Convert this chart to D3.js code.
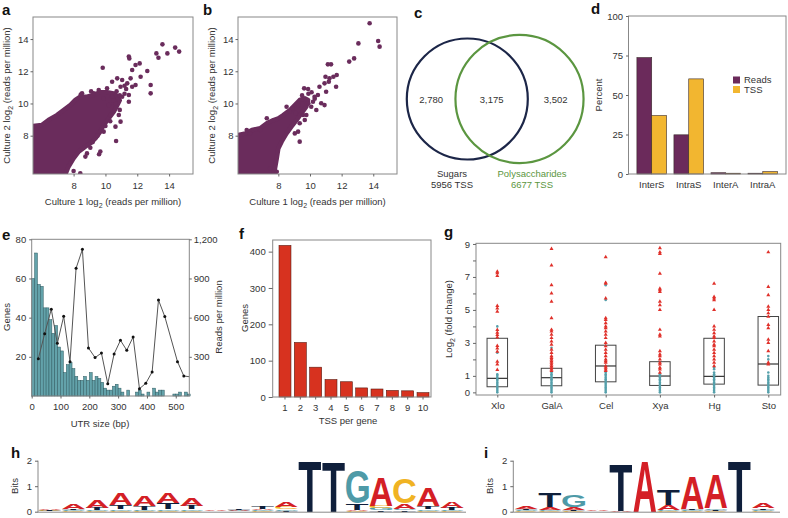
<!DOCTYPE html>
<html lang="en">
<head>
<meta charset="UTF-8">
<title>TSS figure</title>
<script src="https://d3js.org/d3.v7.min.js"></script>
<style>
  body { margin: 0; background: #fff; }
  svg text { font-family: "Liberation Sans", Arial, sans-serif; }
</style>
</head>
<body>
<script>
const width = 788
const height = 518

// a, b: log2 reads per million, culture 1 vs culture 2
// the saturated cloud is kept as an outline, the loose points one by one
const coreA = [[5.0,5.0],[5.0,8.56],[6.0,8.66],[6.42,8.97],[6.95,9.28],[7.37,9.59],[7.79,9.9],[8.11,10.22],[8.42,10.42],[8.84,10.42],[9.26,10.53],[9.68,10.7],[10.1,10.7],[10.6,10.6],[10.9,10.2],[10.7,9.8],[10.53,9.49],[10.21,9.08],[9.89,8.66],[9.68,8.25],[9.37,7.83],[9.05,7.52],[8.74,7.32],[8.32,7.01],[8.0,6.59],[7.68,6.07],[7.47,5.56],[7.4,5.0]]
const pointsA = [[13.58,13.67],[14.38,13.47],[14.63,13.22],[13.2,13.11],[13.89,13.11],[13.33,12.84],
  [11.47,12.91],[11.5,12.8],[12.15,12.49],[11.89,12.39],[11.68,12.08],[9.83,12.22],[12.63,12.02],
  [12.21,11.66],[11.58,11.56],[12.84,11.15],[12.84,10.63],[11.89,11.15],[11.47,10.53],[11.47,10.11],
  [11.05,10.42],[10.84,9.28],[10.95,8.87],[10.63,8.56],[9.89,8.25],[10.32,9.28],[10.67,7.67],
  [9.05,7.25],[9.68,7.01],[9.6,6.85],[8.84,6.9],[8.74,6.7],[8.0,5.81],[8.42,5.66],
  [10.42,11.35],[10.74,11.56],[11.05,11.46],[11.37,11.25],[11.68,11.04],[10.95,11.04],[10.1,10.94],
  [9.58,10.84],[9.26,10.63],[8.53,10.63],[8.45,10.55],[9.89,10.32],[10.42,10.42],[10.63,10.01],[10.21,9.9],
  [11.2,11.1],[10.7,10.75],[11.3,10.9],[9.1,10.75],[10.9,10.5],[10.5,10.2],[11.2,10.6],[9.2,7.6],
  [9.5,8.0],[10.0,8.6],[10.3,8.9],[10.9,9.6]]
const coreB = [[5.0,5.0],[5.0,7.94],[5.92,8.14],[6.33,8.35],[6.85,8.46],[7.27,8.77],[7.69,8.97],[8.0,9.08],[8.31,9.28],[8.73,9.59],[9.04,9.9],[9.35,10.22],[9.67,10.32],[9.88,10.22],[9.77,9.8],[9.46,9.39],[9.15,8.97],[8.83,8.56],[8.52,8.14],[8.21,7.63],[8.0,7.21],[7.9,6.59],[7.79,5.97],[7.69,5.56],[7.6,5.0]]
const pointsB = [[13.77,14.98],[14.31,13.88],[14.4,13.53],[13.06,13.73],[12.79,12.8],[12.48,12.6],[11.13,12.43],[11.33,12.43],
  [10.98,11.66],[11.23,11.56],[11.48,11.66],[11.69,11.77],[11.65,11.04],[11.19,11.35],[10.92,11.25],[10.6,11.04],
  [11.02,10.73],[9.63,10.94],[9.88,10.9],[10.5,10.53],[10.29,10.42],[10.19,10.11],[10.71,10.01],[10.92,9.9],
  [10.4,9.59],[10.08,9.8],[8.52,9.8],[8.73,9.49],[9.25,9.9],[9.56,9.28],[9.67,8.97],[9.77,9.28],[9.35,8.77],
  [9.25,8.25],[9.35,7.63],[9.04,8.14],[7.27,9.08],[6.0,8.35],[6.85,8.35],[6.21,8.14],[7.9,5.76],[7.48,5.97],
  [9.9,10.6],[10.1,10.7],[9.5,10.5],[10.3,10.3],[9.9,10.0],[8.9,9.7],[9.1,9.4]]
const scatterTicks = [8, 10, 12, 14]

// c: venn of TSS sets
const vennNames = ['Sugars', 'Polysaccharides']
const vennTotals = [5956, 6677]
const vennCounts = ['2,780', '3,175', '3,502']

// d: percent of reads / TSS per class
const regionCats = ['InterS', 'IntraS', 'InterA', 'IntraA']
const readsPct = [73.7, 24.8, 0.8, 0.5]
const tssPct = [37, 60.2, 0.5, 1.5]

// e: UTR size histogram (10 bp bins) and reads per million line
const utrGenes = [60,73,57,56,45,45,39,32,36,25,23,12,16,17,14,10,8,8,10,8,12,8,10,9,7,4,3,3,5,6,4,2,0,3,0,0,2,3,1,0,2,0,4,2,3,3,0,0,0,1,1,2,0,2,1]
const utrLineBp = [23,45,68,89,111,133,154,176,197,220,242,264,286,308,330,352,374,396,418,440,462,506,528,547]
const utrLineRpm = [286,477,664,403,610,263,978,1123,368,294,329,94,322,426,350,452,56,97,184,735,608,263,153,148]

// f: TSS per gene
const tssPerGene = [1,2,3,4,5,6,7,8,9,10]
const tssGenes = [417,150,82,48,42,25,22,18,17,12]

// g: log2 fold change per substrate
const gCats = ['Xlo', 'GalA', 'Cel', 'Xya', 'Hg', 'Sto']
const gQ1 = [0.34, 0.4, 0.64, 0.42, 0.5, 0.44]
const gMed = [0.85, 0.89, 1.6, 0.99, 0.97, 1.72]
const gQ3 = [3.28, 1.46, 2.86, 1.86, 3.28, 4.6]
const gUp = [
  [7.33,7.23,7.07,5.25,5.1,4.9,3.79,3.63,3.49,3.34,2.82,2.67,2.47,1.86,1.7,1.36],
  [8.7,7.7,6.5,6.0,5.5,4.5,3.8,3.7,3.5,3.3,3.1,2.9,2.6,2.4,2.2,2.1,2.0,1.9,1.8,1.7,1.6,1.5,1.4,1.3],
  [8.2,6.65,6.6,5.7,4.5,4.4,4.2,4.0,3.9,3.7,3.5,3.3,3.0,2.8,2.6,2.4,2.2,2.0,1.9,1.8,1.6,1.5,1.4,1.3],
  [8.75,8.5,8.4,7.2,6.3,6.2,6.1,5.5,5.3,5.0,3.8,3.5,3.4,2.5,2.3,2.2,2.0,1.8,1.7,1.5,1.4,1.2],
  [6.6,5.8,5.7,5.6,5.0,4.0,3.8,3.6,3.4,3.3,3.1,2.9,2.8,2.6,2.4,2.2,2.0,1.8,1.6],
  [8.5,6.4,5.9,5.2,5.0,4.8,4.6,4.1,3.9,3.2,3.0,2.5,1.8,1.7]
]
const gDown = [
  [4.0,2.4,1.1,1.0,0.9,0.8,0.7,0.6,0.5,0.4,0.3,0.2,0.1,0.0],
  [2.7,1.2,1.1,1.0,0.9,0.8,0.7,0.6,0.5,0.4,0.3,0.2,0.1,0.0],
  [6.5,5.6,1.2,1.1,1.0,0.9,0.8,0.7,0.6,0.5,0.4,0.3,0.2,0.1,0.0],
  [1.1,1.0,0.9,0.8,0.7,0.6,0.5,0.4,0.3,0.2,0.1,0.0],
  [1.5,1.4,1.2,1.1,1.0,0.9,0.8,0.7,0.6,0.5,0.4,0.3,0.2,0.1,0.0],
  [2.2,2.0,1.2,1.0,0.9,0.8,0.7,0.6,0.5,0.4,0.3,0.2,0.1,0.0]
]

// h, i: sequence logos, bits per letter per position
const logoH = [
  [['A',.04],['T',.03],['C',.02],['G',.01]],
  [['A',.18],['T',.05],['G',.03],['C',.02]],
  [['A',.3],['T',.08],['G',.04],['C',.03]],
  [['A',.45],['T',.17],['G',.06],['C',.04]],
  [['A',.38],['T',.14],['G',.05],['C',.03]],
  [['A',.42],['T',.27],['G',.05],['C',.04]],
  [['A',.32],['T',.14],['G',.05],['C',.04]],
  [['A',.02],['T',.01],['G',.01],['C',.01]],
  [['T',.07],['A',.03],['G',.02],['C',.01]],
  [['T',.08],['A',.06],['G',.03],['C',.02]],
  [['A',.18],['C',.08],['G',.06],['T',.03]],
  [['T',2.0]],
  [['T',1.94]],
  [['G',1.3],['T',.25],['A',.04],['C',.03]],
  [['A',1.1],['C',.1],['G',.08],['T',.05]],
  [['C',1.0],['A',.22],['T',.05],['G',.05]],
  [['A',.7],['T',.12],['G',.06],['C',.04]],
  [['A',.25],['T',.08],['G',.04],['C',.03]]
]
const logoI = [
  [['A',.12],['T',.05],['G',.03],['C',.02]],
  [['T',.55],['A',.12],['G',.04],['C',.03]],
  [['G',.48],['A',.1],['T',.05],['C',.03]],
  [['A',.02],['T',.01],['G',.01],['C',.01]],
  [['T',1.85],['A',.04]],
  [['A',2.0]],
  [['T',.6],['A',.2],['G',.03],['C',.02]],
  [['A',1.25],['T',.05],['G',.04],['C',.03]],
  [['A',1.3],['G',.07],['T',.05],['C',.03]],
  [['T',1.99]],
  [['A',.2],['T',.07],['G',.04],['C',.02]]
]
const logoColors = { A: '#d41f26', T: '#0f1f3b', G: '#4e9aa7', C: '#f0b323' }

const ink = '#333'
const frameCol = '#888'
const fs = 9.5

const svg = d3.select('body').append('svg')
  .attr('width', width)
  .attr('height', height)

function frame(x0, y0, x1, y1) {
  svg.append('rect')
    .attr('x', x0).attr('y', y0)
    .attr('width', x1 - x0).attr('height', y1 - y0)
    .attr('fill', 'none')
    .attr('stroke', frameCol)
    .attr('stroke-width', 1)
}

function panelLabel(t, x, y) {
  svg.append('text').text(t)
    .attr('x', x).attr('y', y)
    .attr('font-size', 15)
    .attr('font-weight', 'bold')
    .attr('fill', '#111')
}

function styleAxis(g) {
  g.attr('color', ink)
  g.select('.domain').remove()
  g.selectAll('line').attr('stroke', '#666')
  g.selectAll('text').attr('font-size', fs)
}

function title(txt, x, y, rot, color) {
  svg.append('text').text(txt)
    .attr('transform', `translate(${x},${y}) rotate(${rot || 0})`)
    .attr('text-anchor', 'middle')
    .attr('font-size', fs)
    .attr('fill', color || ink)
}

// text with a subscript 2 after "log"
function log2Title(pre, post, x, y, rot) {
  const t = svg.append('text')
    .attr('transform', `translate(${x},${y}) rotate(${rot || 0})`)
    .attr('text-anchor', 'middle')
    .attr('font-size', fs)
    .attr('fill', ink)
  t.append('tspan').text(pre)
  t.append('tspan').text('2').attr('font-size', 7).attr('dy', 2.5)
  t.append('tspan').text(post).attr('dy', -2.5)
}

// ---------- a, b ----------
function scatter(id, x0, x1, core, pts) {
  const y0 = 17, y1 = 174
  const x = d3.scaleLinear().domain([5.45, 15.5]).range([x0, x1])
  const y = d3.scaleLinear().domain([5.62, 15.37]).range([y1, y0])

  svg.append('clipPath').attr('id', id)
    .append('rect').attr('x', x0).attr('y', y0).attr('width', x1 - x0).attr('height', y1 - y0)

  const g = svg.append('g').attr('clip-path', `url(#${id})`)
  g.append('path')
    .datum(core)
    .attr('d', d3.line().x(d => x(d[0])).y(d => y(d[1])).curve(d3.curveLinearClosed))
    .attr('fill', '#6a2c5c')
    .attr('stroke', '#6a2c5c')
    .attr('stroke-width', 4.5)
    .attr('stroke-linejoin', 'round')
  g.selectAll('circle')
    .data(pts)
    .enter()
    .append('circle')
      .attr('cx', d => x(d[0]))
      .attr('cy', d => y(d[1]))
      .attr('r', 2.3)
      .attr('fill', '#6a2c5c')

  frame(x0, y0, x1, y1)
  svg.append('g').attr('transform', `translate(0,${y1})`)
    .call(d3.axisBottom(x).tickValues(scatterTicks).tickSize(2.5).tickPadding(5.5))
    .call(styleAxis)
  svg.append('g').attr('transform', `translate(${x0},0)`)
    .call(d3.axisLeft(y).tickValues(scatterTicks).tickSize(2.5).tickPadding(2))
    .call(styleAxis)

  log2Title('Culture 1 log', ' (reads per million)', (x0 + x1) / 2, 205)
  log2Title('Culture 2 log', ' (reads per million)', x0 - 23, (y0 + y1) / 2, -90)
}
scatter('clipA', 33, 193, coreA, pointsA)
scatter('clipB', 238, 397, coreB, pointsB)
panelLabel('a', 2, 15)
panelLabel('b', 203, 15)

// ---------- c ----------
const vennK = 60.5 / Math.sqrt(vennTotals[0])
const vennR = vennTotals.map(n => vennK * Math.sqrt(n))
const vennCx = [467.3, 519.5]
const vennCy = 99
const vennCol = ['#1c2648', '#5b9640']
svg.selectAll('.venn')
  .data(vennR)
  .enter()
  .append('circle')
    .attr('cx', (d, i) => vennCx[i])
    .attr('cy', vennCy)
    .attr('r', d => d)
    .attr('fill', 'none')
    .attr('stroke', (d, i) => vennCol[i])
    .attr('stroke-width', 2.2)
const countX = [
  (vennCx[0] - vennR[0] + vennCx[1] - vennR[1]) / 2,
  (vennCx[1] - vennR[1] + vennCx[0] + vennR[0]) / 2,
  (vennCx[0] + vennR[0] + vennCx[1] + vennR[1]) / 2
]
vennCounts.forEach((c, i) => title(c, countX[i], vennCy + 3.5))
title(vennNames[0], 452, 176.5, 0, ink)
title(vennTotals[0] + ' TSS', 452, 188, 0, ink)
title(vennNames[1], 532, 176.5, 0, vennCol[1])
title(vennTotals[1] + ' TSS', 532, 188, 0, vennCol[1])
panelLabel('c', 414, 18)

// ---------- d ----------
{
  const x0 = 628.5, x1 = 786, y0 = 16, y1 = 174
  const x = d3.scaleBand().domain(regionCats).range([x0 + 1, x1 - 1]).paddingInner(0.2).paddingOuter(0.2)
  const y = d3.scaleLinear().domain([0, 100]).range([y1, y0])
  const bw = x.bandwidth() / 2
  const series = [readsPct, tssPct]
  const cols = ['#6b2a5b', '#f2b630']
  series.forEach((vals, s) => {
    svg.selectAll('.bd' + s)
      .data(vals)
      .enter()
      .append('rect')
        .attr('x', (d, i) => x(regionCats[i]) + s * bw)
        .attr('y', d => y(d))
        .attr('width', bw)
        .attr('height', d => y1 - y(d))
        .attr('fill', cols[s])
        .attr('stroke', '#3a2a2a')
        .attr('stroke-width', 0.6)
  })
  frame(x0, y0, x1, y1)
  svg.append('g').attr('transform', `translate(0,${y1})`)
    .call(d3.axisBottom(x).tickSize(0).tickPadding(7))
    .call(styleAxis)
  svg.append('g').attr('transform', `translate(${x0},0)`)
    .call(d3.axisLeft(y).tickValues([0, 25, 50, 75, 100]).tickSize(2.5).tickPadding(3))
    .call(styleAxis)
  title('Percent', 602, 95, -90)
  const legend = ['Reads', 'TSS']
  legend.forEach((t, i) => {
    svg.append('rect').attr('x', 733).attr('y', 76.5 + i * 9.5).attr('width', 7).attr('height', 7)
      .attr('fill', cols[i])
    svg.append('text').text(t).attr('x', 744).attr('y', 83.3 + i * 9.5)
      .attr('font-size', fs).attr('fill', ink)
  })
  panelLabel('d', 591, 14)
}

// ---------- e ----------
{
  const x0 = 31.7, x1 = 189.3, y0 = 239.3, y1 = 396
  const x = d3.scaleLinear().domain([0, 547]).range([x0, x1])
  const yl = d3.scaleLinear().domain([0, 80]).range([y1, y0])
  const yr = d3.scaleLinear().domain([0, 1200]).range([y1, y0])
  svg.selectAll('.be')
    .data(utrGenes)
    .enter()
    .append('rect')
      .attr('x', (d, i) => x(i * 10))
      .attr('y', d => yl(d))
      .attr('width', x(10) - x(0))
      .attr('height', d => y1 - yl(d))
      .attr('fill', '#63a2aa')
      .attr('stroke', '#2f5a60')
      .attr('stroke-width', 0.5)
  const pts = utrLineBp.map((b, i) => [b, utrLineRpm[i]])
  svg.append('path')
    .datum(pts)
    .attr('d', d3.line().x(d => x(d[0])).y(d => yr(d[1])))
    .attr('fill', 'none')
    .attr('stroke', '#555')
    .attr('stroke-width', 1)
  svg.selectAll('.pe')
    .data(pts.slice(0, -1))
    .enter()
    .append('circle')
      .attr('cx', d => x(d[0]))
      .attr('cy', d => yr(d[1]))
      .attr('r', 1.5)
      .attr('fill', '#111')
  frame(x0, y0, x1, y1)
  svg.append('g').attr('transform', `translate(0,${y1})`)
    .call(d3.axisBottom(x).tickValues([0, 100, 200, 300, 400, 500]).tickSize(2.5).tickPadding(5))
    .call(styleAxis)
  svg.append('g').attr('transform', `translate(${x0},0)`)
    .call(d3.axisLeft(yl).tickValues([20, 40, 60, 80]).tickSize(2.5).tickPadding(3))
    .call(styleAxis)
  svg.append('g').attr('transform', `translate(${x1},0)`)
    .call(d3.axisRight(yr).tickValues([300, 600, 900, 1200]).tickSize(2.5).tickPadding(2))
    .call(styleAxis)
  title('UTR size (bp)', 100, 427)
  title('Genes', 10, 317, -90)
  title('Reads per million', 222, 317, -90)
  panelLabel('e', 2, 240)
}

// ---------- f ----------
{
  const x0 = 272.7, x1 = 431, y0 = 240, y1 = 397
  const x = d3.scaleBand().domain(tssPerGene).range([279, 429]).paddingInner(0.22).paddingOuter(0)
  const y = d3.scaleLinear().domain([0, 432]).range([y1, y0])
  svg.selectAll('.bf')
    .data(tssGenes)
    .enter()
    .append('rect')
      .attr('x', (d, i) => x(tssPerGene[i]))
      .attr('y', d => y(d))
      .attr('width', x.bandwidth())
      .attr('height', d => y1 - y(d))
      .attr('fill', '#d7321f')
      .attr('stroke', '#5a1a10')
      .attr('stroke-width', 0.6)
  frame(x0, y0, x1, y1)
  svg.append('g').attr('transform', `translate(0,${y1})`)
    .call(d3.axisBottom(x).tickSize(2.5).tickPadding(5))
    .call(styleAxis)
  svg.append('g').attr('transform', `translate(${x0},0)`)
    .call(d3.axisLeft(y).tickValues([0, 100, 200, 300, 400]).tickSize(4).tickPadding(3))
    .call(styleAxis)
  title('TSS per gene', 348, 424)
  title('Genes', 248, 318, -90)
  panelLabel('f', 239, 239)
}

// ---------- g ----------
{
  const x0 = 476, x1 = 780.7, y0 = 243.3, y1 = 395
  const x = d3.scalePoint().domain(gCats).range([497.3, 768.3])
  const y = d3.scaleLinear().domain([-0.16, 9.04]).range([y1, y0])
  const bw = 20.5
  gCats.forEach((c, i) => {
    const cx = x(c)
    svg.append('rect')
      .attr('x', cx - bw / 2).attr('y', y(gQ3[i]))
      .attr('width', bw).attr('height', y(gQ1[i]) - y(gQ3[i]))
      .attr('fill', 'none').attr('stroke', '#444').attr('stroke-width', 1)
    svg.append('line')
      .attr('x1', cx - bw / 2).attr('x2', cx + bw / 2)
      .attr('y1', y(gMed[i])).attr('y2', y(gMed[i]))
      .attr('stroke', '#333').attr('stroke-width', 1.2)
    svg.selectAll('.gd' + i)
      .data(gDown[i])
      .enter()
      .append('circle')
        .attr('cx', cx)
        .attr('cy', d => y(d))
        .attr('r', 1.3)
        .attr('fill', '#55a0ab')
    svg.selectAll('.gu' + i)
      .data(gUp[i])
      .enter()
      .append('path')
        .attr('d', d3.symbol(d3.symbolTriangle).size(7))
        .attr('transform', d => `translate(${cx},${y(d)})`)
        .attr('fill', '#e0302a')
  })
  frame(x0, y0, x1, y1)
  svg.append('g').attr('transform', `translate(0,${y1})`)
    .call(d3.axisBottom(x).tickSize(2.5).tickPadding(5))
    .call(styleAxis)
  const ya = svg.append('g').attr('transform', `translate(${x0},0)`)
    .call(d3.axisLeft(y).tickValues([0, 1, 2, 3, 4, 5, 6, 7, 8, 9]).tickSize(3).tickPadding(3))
    .call(styleAxis)
  // only odd values (and 0) carry a label
  ya.selectAll('.tick text').filter(d => ![0, 1, 3, 5, 7, 9].includes(d)).remove()
  log2Title('Log', ' (fold change)', 452, 319, -90)
  panelLabel('g', 444, 237)
}

// ---------- h, i ----------
const measureCtx = document.createElement('canvas').getContext('2d')
measureCtx.font = 'bold 100px "Liberation Sans", Arial, sans-serif'
const glyph = {}
Object.keys(logoColors).forEach(L => {
  const m = measureCtx.measureText(L)
  glyph[L] = {
    left: m.actualBoundingBoxLeft,
    w: m.actualBoundingBoxLeft + m.actualBoundingBoxRight,
    asc: m.actualBoundingBoxAscent,
    h: m.actualBoundingBoxAscent + m.actualBoundingBoxDescent
  }
})

function seqLogo(cols, axisX, bandX0, lineX1) {
  const y0 = 460.7, y1 = 511.7
  const x = d3.scaleBand().domain(d3.range(cols.length)).range([bandX0, bandX0 + cols.length * 23.6]).paddingInner(0.04)
  const y = d3.scaleLinear().domain([0, 2]).range([y1, y0])
  const g = svg.append('g')
  cols.forEach((col, i) => {
    let base = 0
    col.slice().sort((a, b) => a[1] - b[1]).forEach(([L, bits]) => {
      const yb = y(base), yt = y(base + bits)
      base += bits
      const m = glyph[L]
      g.append('text').text(L)
        .attr('font-size', 100)
        .attr('font-weight', 'bold')
        .attr('fill', logoColors[L])
        .attr('transform', `translate(${x(i)},${yt}) scale(${x.bandwidth() / m.w},${(yb - yt) / m.h}) translate(${m.left},${m.asc})`)
    })
  })
  svg.append('line')
    .attr('x1', axisX).attr('x2', lineX1).attr('y1', y1 + 0.5).attr('y2', y1 + 0.5)
    .attr('stroke', frameCol)
  svg.append('line')
    .attr('x1', axisX).attr('x2', axisX).attr('y1', y0).attr('y2', y1 + 0.5)
    .attr('stroke', frameCol)
  svg.append('g').attr('transform', `translate(${axisX},0)`)
    .call(d3.axisLeft(y).tickValues([0, 1, 2]).tickFormat(d3.format('d')).tickSize(3).tickPadding(3))
    .call(styleAxis)
  title('Bits', axisX - 20, 486, -90)
}
seqLogo(logoH, 38, 38.5, 466)
seqLogo(logoI, 513.3, 515, 780)
panelLabel('h', 11, 458)
panelLabel('i', 484, 458)
</script>
</body>
</html>
